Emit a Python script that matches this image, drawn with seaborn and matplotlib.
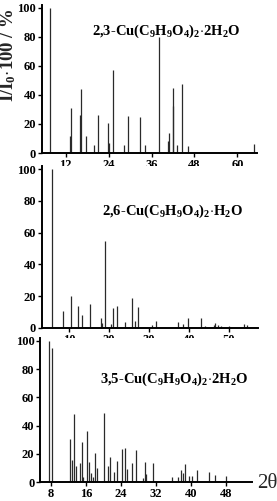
import matplotlib
matplotlib.use("Agg")
import matplotlib.pyplot as plt
import seaborn as sns
import pandas as pd

# ---- data ----
labels = [r"2,3-Cu(C$_9$H$_9$O$_4$)$_2$$\cdot$2H$_2$O",
          r"2,6-Cu(C$_9$H$_9$O$_4$)$_2$$\cdot$H$_2$O",
          r"3,5-Cu(C$_9$H$_9$O$_4$)$_2$$\cdot$2H$_2$O"]

p1_theta = [7.6, 13.1, 13.4, 16.1, 16.4, 17.8, 20.0, 20.9, 23.8, 24.2, 25.25, 28.3,
            29.4, 32.9, 34.1, 38.05, 40.5, 41.0, 41.9, 42.05, 43.1, 44.6, 46.2, 64.7]
p1_int = [100, 11.5, 31, 26.4, 44, 12, 5.7, 26.4, 20.7, 6.9, 56.8, 5.3,
          25.7, 24.8, 5.3, 79.8, 8, 13.8, 32, 44.8, 5.7, 47.1, 4.6, 6.4]

p2_theta = [5.6, 8.5, 10.5, 12.3, 13.2, 15.3, 17.9, 18.3, 18.9, 20.5, 21.1, 22.0,
            24.1, 25.7, 26.4, 27.4, 30.8, 31.9, 37.3, 38.5, 39.9, 43.1, 44.1, 46.3,
            46.7, 47.3, 48.1, 50.2, 53.9, 54.7]
p2_int = [100, 10.5, 19.9, 14, 8.4, 15.3, 6.3, 3.1, 54.9, 2.7, 12.6, 14,
          3.6, 19, 4.2, 13.2, 2.1, 4.2, 3.8, 2.7, 6.1, 6.3, 1.5, 2.1,
          3.1, 1.9, 1.5, 1.3, 2.7, 1.9]

p3_theta = [7.61, 8.30, 12.35, 12.88, 13.26, 13.64, 14.56, 15.09, 15.39, 16.31, 16.77,
            17.15, 17.61, 18.0, 18.6, 20.2, 21.1, 21.43, 22.35, 23.1, 24.25, 24.86,
            25.39, 26.46, 27.45, 29.12, 29.58, 29.81, 31.27, 35.69, 37.13, 37.68,
            38.14, 38.59, 39.65, 40.27, 41.41, 44.09, 45.53, 48.05]
p3_int = [100, 94.6, 30.6, 15.8, 48.2, 11.8, 13.9, 28.7, 4, 36.2, 14.6,
          6.4, 4, 21, 10.4, 48.7, 11.8, 17.6, 7, 15.3, 23.3, 24.5,
          9.4, 13.9, 22.8, 3, 14.6, 5.6, 13.4, 4, 3.5, 8.7,
          6.4, 13.2, 4.7, 4.7, 8.7, 7.5, 5.2, 4.7]

p1_xticks = [12, 24, 36, 48, 60]
p2_xticks = [10, 20, 30, 40, 50]
p3_xticks = [8, 16, 24, 32, 40, 48]
y_ticks = [0, 20, 40, 60, 80, 100]

# ---- style ----
sns.set_theme(style="ticks")
plt.rcParams["font.family"] = ["Liberation Serif", "DejaVu Serif"]
plt.rcParams["font.weight"] = "bold"
plt.rcParams["mathtext.fontset"] = "custom"
plt.rcParams["mathtext.rm"] = "Liberation Serif:bold"
plt.rcParams["mathtext.it"] = "Liberation Serif:bold"
plt.rcParams["mathtext.bf"] = "Liberation Serif:bold"

W, H = 277, 501
fig = plt.figure(figsize=(W / 100, H / 100), dpi=100)

def rect(left_px, right_px, zero_py, px_per_unit, ytop=102):
    top_py = zero_py - ytop * px_per_unit
    return [left_px / W, 1 - zero_py / H, (right_px - left_px) / W, (zero_py - top_py) / H]

panels = [
    (p1_theta, p1_int, p1_xticks, (5.28, 65.4), rect(41.7, 256.7, 153, 1.455), labels[0], (92, 31)),
    (p2_theta, p2_int, p2_xticks, (3.1, 57.4), rect(41.7, 258, 328, 1.59), labels[1], (102, 211)),
    (p3_theta, p3_int, p3_xticks, (5.48, 53.95), rect(40, 251.7, 482.3, 1.416), labels[2], (100, 379)),
]

for theta, inten, xt, xl, r, lab, tpos in panels:
    ax = fig.add_axes(r)
    df = pd.DataFrame({"theta": theta, "I": inten})
    ax.vlines(df["theta"], 0, df["I"], color="#2a2a2a", linewidth=0.9)
    sns.despine(ax=ax)
    ax.set_xlim(*xl)
    ax.set_ylim(0, 102)
    ax.set_xticks(xt)
    ax.set_yticks(y_ticks)
    ax.set_xlabel("")
    ax.set_ylabel("")
    for s in ("left", "bottom"):
        ax.spines[s].set_linewidth(1.4)
        ax.spines[s].set_color("black")
    ax.tick_params(axis="both", length=3, width=1, pad=1, labelsize=9, colors="black")
    for t in ax.get_xticklabels() + ax.get_yticklabels():
        t.set_fontweight("bold")
    fig.text(tpos[0] / W, 1 - tpos[1] / H, lab, fontsize=10.5,
             fontweight="bold", ha="left", va="center", color="black")

fig.text(8.5 / W, 1 - 55 / H, r"I/I$_0$$\cdot$100 / %", rotation=90, fontsize=13.5,
         fontweight="bold", ha="center", va="center")
fig.text(257 / W, 1 - 483 / H, "2θ", fontsize=15, fontweight="normal",
         ha="left", va="center")

fig.savefig("out.png", dpi=100)
